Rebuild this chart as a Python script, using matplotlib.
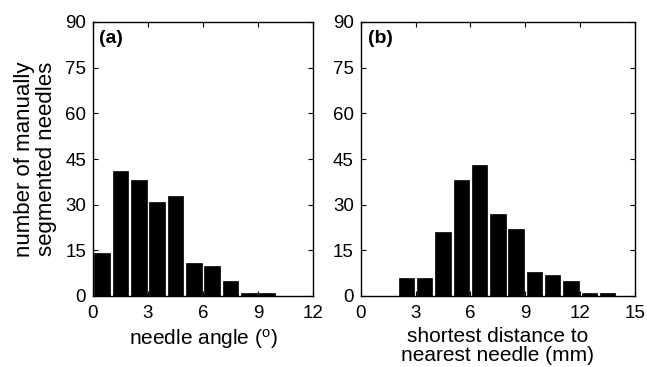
import matplotlib
matplotlib.use("Agg")
import matplotlib.pyplot as plt
import numpy as np

plt.rcParams['font.family'] = ['Liberation Sans', 'DejaVu Sans']
plt.rcParams['mathtext.fontset'] = 'custom'
plt.rcParams['mathtext.rm'] = 'Liberation Sans'
plt.rcParams['mathtext.it'] = 'Liberation Sans:italic'

# Panel (a): needle angle histogram
angle_centers = [0.5, 1.5, 2.5, 3.5, 4.5, 5.5, 6.5, 7.5, 8.5, 9.5, 10.5, 11.5]
angle_counts = [14, 41, 38, 31, 33, 11, 10, 5, 1, 1, 0, 0]

# Panel (b): shortest distance histogram
dist_centers = [0.5, 1.5, 2.5, 3.5, 4.5, 5.5, 6.5, 7.5, 8.5, 9.5, 10.5, 11.5, 12.5, 13.5, 14.5]
dist_counts = [0, 0, 6, 6, 21, 38, 43, 27, 22, 8, 7, 5, 1, 1, 0]

y_ticks = [0, 15, 30, 45, 60, 75, 90]
xa_ticks = [0, 3, 6, 9, 12]
xb_ticks = [0, 3, 6, 9, 12, 15]

W, H = 647, 367
fig = plt.figure(figsize=(W / 100, H / 100), dpi=100)

axa = fig.add_axes([93 / W, 1 - 296 / H, 220 / W, 274 / H])
axb = fig.add_axes([360.7 / W, 1 - 296 / H, 274.3 / W, 274 / H])

tick_fs = 13.5
label_fs = 15

for ax, c, v, xt, xmax, tag in [
    (axa, angle_centers, angle_counts, xa_ticks, 12, '(a)'),
    (axb, dist_centers, dist_counts, xb_ticks, 15, '(b)'),
]:
    ax.bar(c, v, width=0.84, color='black', edgecolor='black', linewidth=0.5)
    ax.set_xlim(0, xmax)
    ax.set_ylim(0, 90)
    ax.set_xticks(xt)
    ax.set_yticks(y_ticks)
    ax.tick_params(direction='in', top=True, right=True, length=3.5, width=0.8,
                   labelsize=tick_fs)
    ax.tick_params(axis='x', pad=6.5)
    ax.tick_params(axis='y', pad=5)
    for s in ax.spines.values():
        s.set_linewidth(1.0)
    ax.text(0.025, 0.97, tag, transform=ax.transAxes, fontsize=14,
            fontweight='bold', va='top', ha='left')

axa.set_ylabel('number of manually\nsegmented needles', fontsize=16,
               linespacing=1.05, labelpad=6)
axa.set_xlabel('needle angle ($^{\\mathrm{o}}$)', fontsize=label_fs, labelpad=3.3)
axb.set_xlabel('shortest distance to\nnearest needle (mm)', fontsize=label_fs,
               linespacing=1.0, labelpad=3.3)

fig.savefig('out.png', dpi=100)
